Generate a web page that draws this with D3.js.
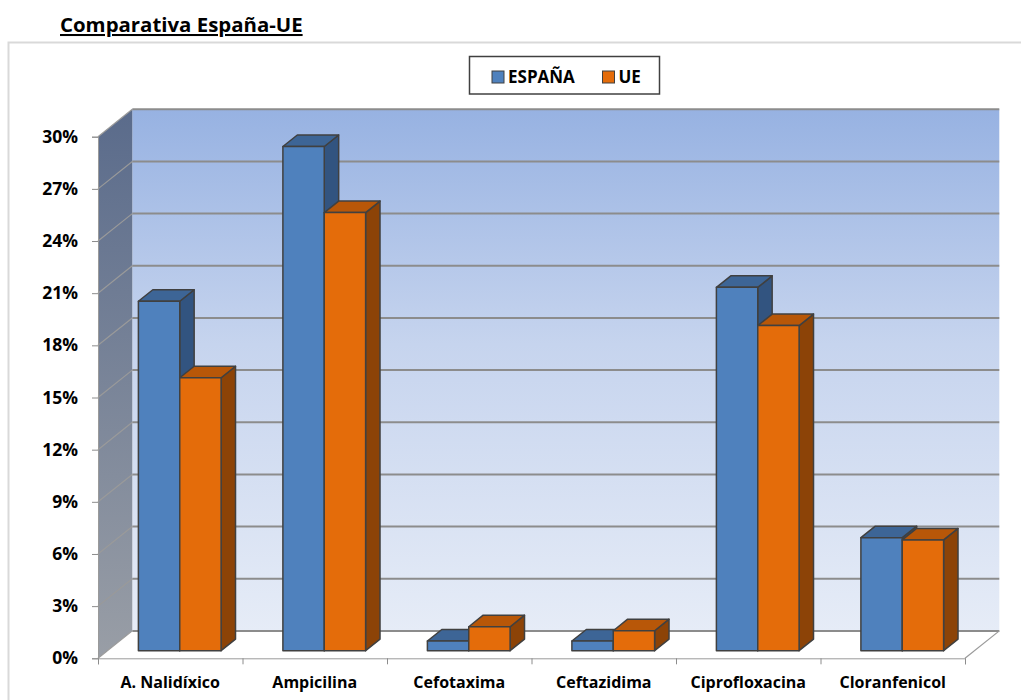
<!DOCTYPE html>
<html>
<head>
<meta charset="utf-8">
<script src="https://cdn.jsdelivr.net/npm/d3@7"></script>
<style>
  html, body { margin: 0; padding: 0; background: #fff; }
  svg { display: block; font-family: "Open Sans", Lato, sans-serif; }
</style>
</head>
<body>
<svg id="chart" width="1021" height="700"></svg>
<script>
// ---- data ----
const categories = ["A. Nalidíxico", "Ampicilina", "Cefotaxima", "Ceftazidima", "Ciprofloxacina", "Cloranfenicol"];
const seriesNames = ["ESPAÑA", "UE"];
const espana = [20.1, 29.0, 0.56, 0.56, 20.9, 6.5];
const ue = [15.7, 25.2, 1.38, 1.15, 18.7, 6.37];
const yTicks = [0, 3, 6, 9, 12, 15, 18, 21, 24, 27, 30];
const title = "Comparativa España-UE";

// ---- layout ----
const FONT = '"Open Sans", Lato, sans-serif';
const svg = d3.select("#chart");
const X0 = 98, X1 = 965, Y0 = 658.3, Y1 = 136.7;
const DX = 34.3, DY = -27.4;           // full depth offset of back wall
const colors = {
  front: ["#4f81bd", "#e46c0a"],
  top: ["#3d6596", "#b85708"],
  side: ["#325480", "#8c4307"]
};

const y = d3.scaleLinear().domain([0, 30]).range([Y0, Y1]);
const x = d3.scaleBand().domain(categories).range([X0, X1]).paddingInner(0).paddingOuter(0);
const inner = d3.scaleBand().domain(seriesNames).range([0, x.bandwidth()]).paddingInner(0).paddingOuter(0.747);
const xi = d3.scaleLinear().domain([0, categories.length]).range([X0, X1]);

// Title
svg.append("text").attr("x", 60).attr("y", 32)
  .attr("font-size", 20.4).attr("font-weight", "bold").attr("fill", "#000")
  .attr("text-decoration", "underline")
  .text(title);

// outer frame
svg.append("rect").attr("x", 8.5).attr("y", 42.5).attr("width", 1030).attr("height", 700)
  .attr("fill", "none").attr("stroke", "#d9d9d9").attr("stroke-width", 2);

// defs: gradients
const defs = svg.append("defs");
const gBack = defs.append("linearGradient").attr("id", "gBack").attr("x1", 0).attr("y1", 0).attr("x2", 0).attr("y2", 1);
gBack.append("stop").attr("offset", "0%").attr("stop-color", "#97b2e2");
gBack.append("stop").attr("offset", "45%").attr("stop-color", "#c6d4ee");
gBack.append("stop").attr("offset", "100%").attr("stop-color", "#e6ecf7");
const gSide = defs.append("linearGradient").attr("id", "gSide").attr("x1", 0).attr("y1", 0).attr("x2", 0).attr("y2", 1);
gSide.append("stop").attr("offset", "0%").attr("stop-color", "#5a6b8b");
gSide.append("stop").attr("offset", "100%").attr("stop-color", "#999ea6");

// back wall
svg.append("rect").attr("x", X0 + DX).attr("y", y(30) + DY)
  .attr("width", X1 - X0).attr("height", y(0) - y(30))
  .attr("fill", "url(#gBack)");
// side wall
svg.append("path")
  .attr("d", `M${X0},${y(30)} L${X0 + DX},${y(30) + DY} L${X0 + DX},${y(0) + DY} L${X0},${y(0)} Z`)
  .attr("fill", "url(#gSide)");
// floor
svg.append("path")
  .attr("d", `M${X0},${y(0)} L${X0 + DX},${y(0) + DY} L${X1 + DX},${y(0) + DY} L${X1},${y(0)} Z`)
  .attr("fill", "#ffffff");

// gridlines back wall
svg.append("g").selectAll("line").data(yTicks).join("line")
  .attr("x1", X0 + DX).attr("x2", X1 + DX)
  .attr("y1", d => y(d) + DY).attr("y2", d => y(d) + DY)
  .attr("stroke", "#8c8c8c").attr("stroke-width", 2);
// gridlines side wall
svg.append("g").selectAll("line").data(yTicks).join("line")
  .attr("x1", X0).attr("x2", X0 + DX)
  .attr("y1", d => y(d)).attr("y2", d => y(d) + DY)
  .attr("stroke", "#9a9a9a").attr("stroke-width", 1.2);
// floor edges
svg.append("line").attr("x1", X1).attr("y1", y(0)).attr("x2", X1 + DX).attr("y2", y(0) + DY)
  .attr("stroke", "#9a9a9a").attr("stroke-width", 1.2);

// y axis
const yAxis = svg.append("g").attr("transform", `translate(${X0},0)`)
  .call(d3.axisLeft(y).tickValues(yTicks).tickFormat(d => d + "%").tickSize(6).tickPadding(14));
yAxis.select(".domain").attr("stroke", "#9a9a9a");
yAxis.selectAll(".tick line").attr("stroke", "#8c8c8c");
yAxis.selectAll(".tick text").attr("font-size", 17.5).attr("font-weight", "bold").attr("fill", "#000")
  .attr("font-family", FONT);

// x axis ticks
const xAxisT = svg.append("g").attr("transform", `translate(0,${Y0})`)
  .call(d3.axisBottom(xi).tickValues(d3.range(categories.length + 1)).tickFormat("").tickSize(6));
xAxisT.select(".domain").attr("stroke", "#9a9a9a");
xAxisT.selectAll(".tick line").attr("stroke", "#8c8c8c");
// x labels
const xAxisL = svg.append("g").attr("transform", `translate(0,${Y0})`)
  .call(d3.axisBottom(x).tickSize(0).tickPadding(18.5));
xAxisL.select(".domain").remove();
xAxisL.selectAll(".tick text").attr("font-size", 16).attr("font-weight", "bold").attr("fill", "#000")
  .attr("font-family", FONT);

// 3D bars
const z0 = 0.277, z1 = 0.277 + 0.42;
const rows = [];
categories.forEach((c, i) => {
  [espana[i], ue[i]].forEach((v, s) => rows.push({ c, s, v }));
});
const barG = svg.append("g");
rows.forEach(d => {
  const xl = x(d.c) + inner(seriesNames[d.s]);
  const xr = xl + inner.bandwidth();
  const ox0 = DX * z0, oy0 = DY * z0, ox1 = DX * z1, oy1 = DY * z1;
  const yt = y(d.v), yb = y(0);
  const g = barG.append("g").attr("stroke", "#404040").attr("stroke-width", 1.5).attr("stroke-linejoin", "round");
  // side
  g.append("path").attr("fill", colors.side[d.s])
    .attr("d", `M${xr + ox0},${yt + oy0} L${xr + ox1},${yt + oy1} L${xr + ox1},${yb + oy1} L${xr + ox0},${yb + oy0} Z`);
  // top
  g.append("path").attr("fill", colors.top[d.s])
    .attr("d", `M${xl + ox0},${yt + oy0} L${xl + ox1},${yt + oy1} L${xr + ox1},${yt + oy1} L${xr + ox0},${yt + oy0} Z`);
  // front
  g.append("rect").attr("fill", colors.front[d.s])
    .attr("x", xl + ox0).attr("y", yt + oy0).attr("width", xr - xl).attr("height", yb - yt);
});

// legend
const leg = svg.append("g");
leg.append("rect").attr("x", 469.5).attr("y", 56.5).attr("width", 190).attr("height", 37.5)
  .attr("fill", "#fff").attr("stroke", "#404040").attr("stroke-width", 1.5);
const legX = [492, 602.5];
seriesNames.forEach((n, i) => {
  leg.append("rect").attr("x", legX[i]).attr("y", 71).attr("width", 12).attr("height", 12)
    .attr("fill", colors.front[i]).attr("stroke", "#404040").attr("stroke-width", 1);
  leg.append("text").attr("x", legX[i] + 16).attr("y", 82.5)
    .attr("font-size", 17).attr("font-weight", "bold").attr("fill", "#000").text(n);
});
</script>
</body>
</html>
